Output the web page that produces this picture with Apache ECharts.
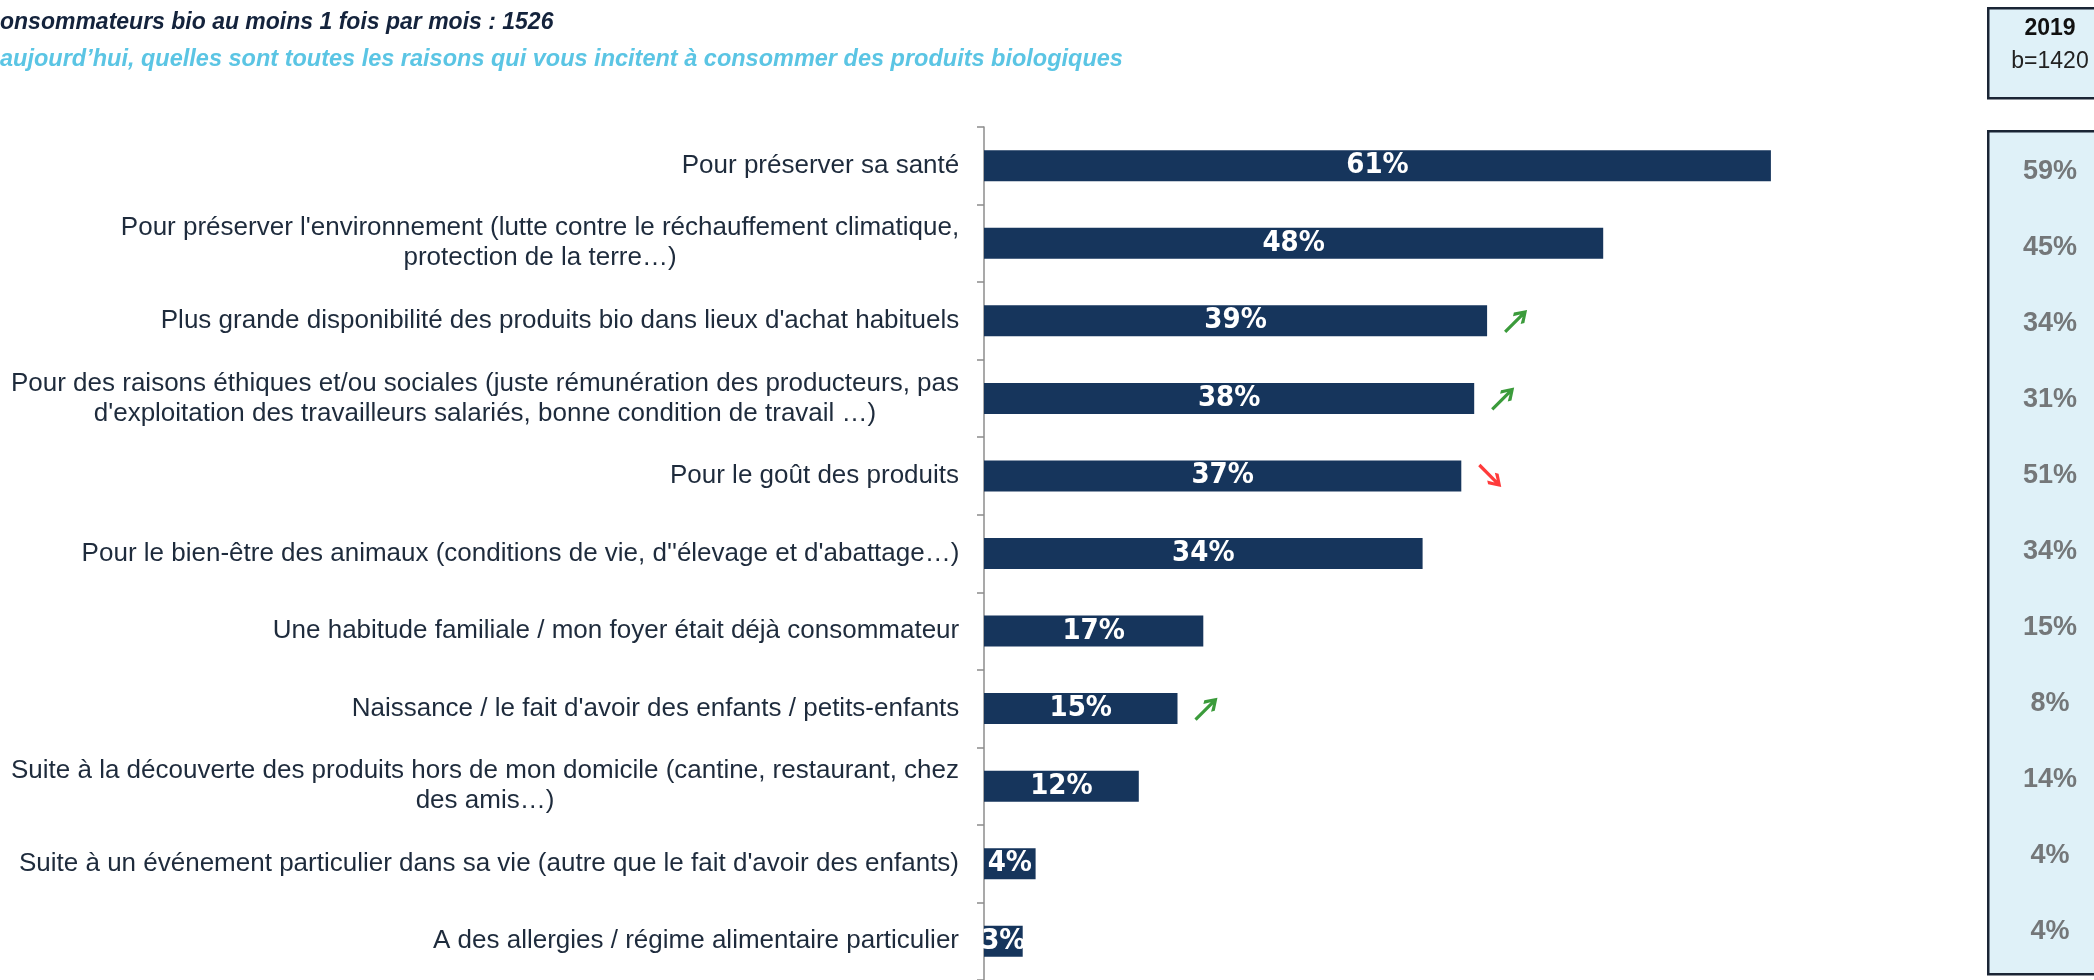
<!DOCTYPE html>
<html><head><meta charset="utf-8">
<script src="https://cdn.jsdelivr.net/npm/echarts@6/dist/echarts.min.js"></script>
<style>html,body{margin:0;padding:0;background:#fff}#c{width:2094px;height:980px}</style>
</head><body><div id="c"></div>
<script>
const categories = [
  "Pour préserver sa santé",
  "Pour préserver l'environnement (lutte contre le réchauffement climatique,\nprotection de la terre…)",
  "Plus grande disponibilité des produits bio dans lieux d'achat habituels",
  "Pour des raisons éthiques et/ou sociales (juste rémunération des producteurs, pas\nd'exploitation des travailleurs salariés, bonne condition de travail …)",
  "Pour le goût des produits",
  "Pour le bien-être des animaux (conditions de vie, d''élevage et d'abattage…)",
  "Une habitude familiale / mon foyer était déjà consommateur",
  "Naissance / le fait d'avoir des enfants / petits-enfants",
  "Suite à la découverte des produits hors de mon domicile (cantine, restaurant, chez\ndes amis…)",
  "Suite à un événement particulier dans sa vie (autre que le fait d'avoir des enfants)",
  "A des allergies / régime alimentaire particulier"
];
const valuesCurrent = [61, 48, 39, 38, 37, 34, 17, 15, 12, 4, 3];
const values2019 = [59, 45, 34, 31, 51, 34, 15, 8, 14, 4, 4];
const trends = [null, null, "up", "up", "down", null, null, "up", null, null, null];
const compareYear = "2019";
const compareBase = "b=1420";
const titleText = "onsommateurs bio au moins 1 fois par mois : 1526";
const subtitleText = "aujourd’hui, quelles sont toutes les raisons qui vous incitent à consommer des produits biologiques";

const LABEL_FONT = '"Liberation Sans", Arial, sans-serif';
const LABEL_SIZE = 26;
const LABEL_COLOR = '#1e2b3c';
const ctx = document.createElement('canvas').getContext('2d');
ctx.font = LABEL_SIZE + 'px ' + LABEL_FONT;
const rich = {};
categories.forEach((c, i) => {
  const w = Math.max(...c.split('\n').map(l => ctx.measureText(l).width));
  rich['c' + i] = { width: Math.ceil(w) + 1, align: 'center', fontSize: LABEL_SIZE,
    fontFamily: LABEL_FONT, color: LABEL_COLOR, lineHeight: 30 };
});

const ARROW = 'path://M0 4.4 L15.6 4.4 L11.2 0.6 L13.4 -1.4 L21 6 L13.4 13.4 L11.2 11.4 L15.6 7.6 L0 7.6 Z';
const arrowData = [];
trends.forEach((t, i) => {
  if (!t) return;
  arrowData.push({
    value: [valuesCurrent[i], i],
    symbolRotate: t === 'up' ? 45 : -45,
    itemStyle: { color: t === 'up' ? '#0a820a' : '#ff0a0a' }
  });
});

const BOX_FILL = '#dff1f8';
const BOX_STROKE = '#1a2535';

const chart = echarts.init(document.getElementById('c'), null, { renderer: 'canvas' });
chart.setOption({
  animation: false,
  backgroundColor: '#ffffff',
  title: [
    { text: titleText, left: 0, top: 10, padding: 0,
      textStyle: { fontFamily: LABEL_FONT, fontSize: 23, fontWeight: 'bold', fontStyle: 'italic', color: '#14233c', lineHeight: 26 } },
    { text: subtitleText, left: 0, top: 47, padding: 0,
      textStyle: { fontFamily: LABEL_FONT, fontSize: 23.5, fontWeight: 'bold', fontStyle: 'italic', color: '#5bc5e4', lineHeight: 26 } }
  ],
  grid: [
    { left: 984, top: 127, width: 903, height: 859, containLabel: false },
    { left: 2006, top: 130, width: 88, height: 843, show: false }
  ],
  xAxis: [
    { type: 'value', gridIndex: 0, min: 0, max: 70, show: false },
    { type: 'value', gridIndex: 1, min: 0, max: 1, show: false }
  ],
  yAxis: [
    { type: 'category', gridIndex: 0, inverse: true, data: categories,
      axisLine: { show: true, lineStyle: { color: '#8c8c8c', width: 1.5 } },
      axisTick: { show: true, length: 7, lineStyle: { color: '#8c8c8c', width: 1.5 } },
      axisLabel: { interval: 0, margin: 24, rich: rich,
        formatter: (v, idx) => v.split('\n').map(l => '{c' + idx + '|' + l + '}').join('\n') } },
    { type: 'value', gridIndex: 1, inverse: true, min: -0.553, max: 10.54, show: false }
  ],
  graphic: [
    { type: 'rect', left: 1987, top: 7, z: -1, shape: { width: 126, height: 90 },
      style: { fill: BOX_FILL, stroke: BOX_STROKE, lineWidth: 2.5 } },
    { type: 'rect', left: 1987, top: 130, z: -1, shape: { width: 126, height: 843 },
      style: { fill: BOX_FILL, stroke: BOX_STROKE, lineWidth: 2.5 } },
    { type: 'text', x: 2050, y: 29, style: { text: compareYear, fontFamily: LABEL_FONT, fontSize: 23,
      fontWeight: 'bold', fill: '#111111', align: 'center', verticalAlign: 'middle' } },
    { type: 'text', x: 2050, y: 62, style: { text: compareBase, fontFamily: LABEL_FONT, fontSize: 23,
      fill: '#222222', align: 'center', verticalAlign: 'middle' } }
  ],
  series: [
    { type: 'bar', xAxisIndex: 0, yAxisIndex: 0, data: valuesCurrent, barWidth: 31,
      itemStyle: { color: '#16355c' },
      label: { show: true, position: 'inside', formatter: '{c}%', color: '#ffffff',
        fontFamily: '"Liberation Sans Narrow", "DejaVu Sans Condensed", "Liberation Sans", sans-serif',
        fontWeight: 'bold', fontSize: 29 } },
    { type: 'scatter', xAxisIndex: 0, yAxisIndex: 0, data: arrowData, symbol: ARROW,
      symbolSize: [31, 21], symbolKeepAspect: true, symbolOffset: [29, 0], z: 5 },
    { type: 'scatter', xAxisIndex: 1, yAxisIndex: 1,
      data: values2019.map((v, i) => [0.5, i, v]), symbolSize: 1,
      itemStyle: { color: 'rgba(0,0,0,0)' },
      label: { show: true, position: 'inside', formatter: p => p.value[2] + '%',
        fontFamily: LABEL_FONT, fontWeight: 'bold', fontSize: 27, color: '#595959' } }
  ]
});
</script></body></html>
